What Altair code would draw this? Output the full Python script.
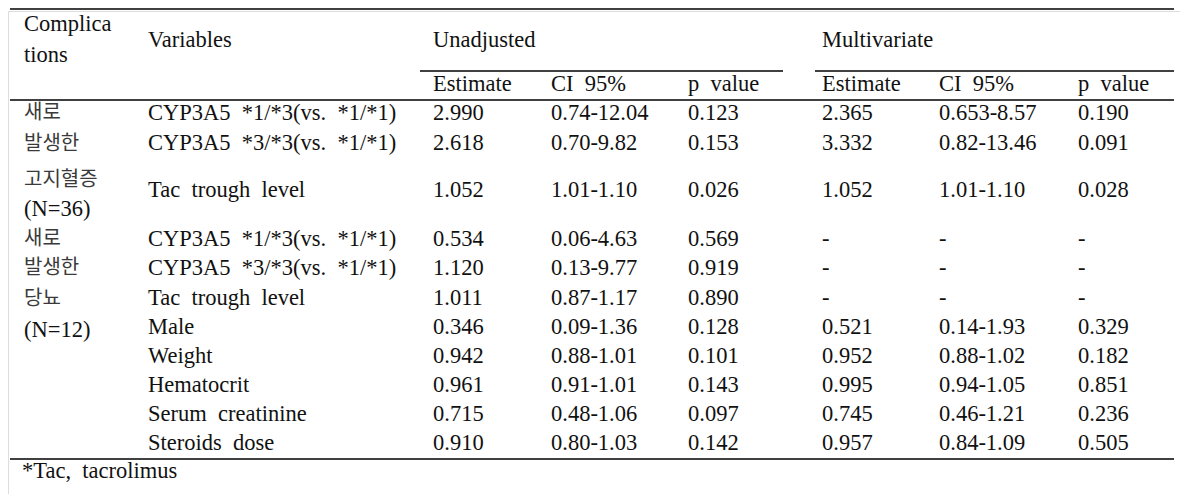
import altair as alt
import pandas as pd

# ---------------- data ----------------
group_labels = [["새로", "발생한", "고지혈증", "(N=36)"],
                ["새로", "발생한", "당뇨", "(N=12)"]]
variables = ["CYP3A5 *1/*3(vs. *1/*1)", "CYP3A5 *3/*3(vs. *1/*1)", "Tac trough level",
             "CYP3A5 *1/*3(vs. *1/*1)", "CYP3A5 *3/*3(vs. *1/*1)", "Tac trough level",
             "Male", "Weight", "Hematocrit", "Serum creatinine", "Steroids dose"]
unadj_est = ["2.990", "2.618", "1.052", "0.534", "1.120", "1.011", "0.346", "0.942", "0.961", "0.715", "0.910"]
unadj_ci = ["0.74-12.04", "0.70-9.82", "1.01-1.10", "0.06-4.63", "0.13-9.77", "0.87-1.17",
            "0.09-1.36", "0.88-1.01", "0.91-1.01", "0.48-1.06", "0.80-1.03"]
unadj_p = ["0.123", "0.153", "0.026", "0.569", "0.919", "0.890", "0.128", "0.101", "0.143", "0.097", "0.142"]
multi_est = ["2.365", "3.332", "1.052", "-", "-", "-", "0.521", "0.952", "0.995", "0.745", "0.957"]
multi_ci = ["0.653-8.57", "0.82-13.46", "1.01-1.10", "-", "-", "-",
            "0.14-1.93", "0.88-1.02", "0.94-1.05", "0.46-1.21", "0.84-1.09"]
multi_p = ["0.190", "0.091", "0.028", "-", "-", "-", "0.329", "0.182", "0.851", "0.236", "0.505"]
sub_headers = ["Estimate", "CI 95%", "p value"]
footnote = "*Tac, tacrolimus"

# ---------------- layout (page-pixel coordinates) ----------------
col_x = [433, 551, 688, 822, 939, 1078]
row_y = [110, 140, 187, 236, 265, 295, 324, 353, 382, 411, 440]
label_y = [[110, 141, 177, 206], [236, 265, 296, 327]]


def wide(s):
    return s.replace(" ", " \u00a0")


serif_rows = []
kr_rows = []

serif_rows += [
    {"t": "Complica", "x": 24, "y": 21},
    {"t": "tions", "x": 24, "y": 52},
    {"t": "Variables", "x": 148, "y": 37},
    {"t": "Unadjusted", "x": 433, "y": 37},
    {"t": "Multivariate", "x": 822, "y": 37},
    {"t": wide(footnote), "x": 22, "y": 468},
]
for i, h in enumerate(sub_headers * 2):
    serif_rows.append({"t": wide(h), "x": col_x[i], "y": 81})

cols = [unadj_est, unadj_ci, unadj_p, multi_est, multi_ci, multi_p]
for r, v in enumerate(variables):
    serif_rows.append({"t": wide(v), "x": 148, "y": row_y[r]})
    for c, col in enumerate(cols):
        serif_rows.append({"t": col[r], "x": col_x[c], "y": row_y[r]})

for g, labels in enumerate(group_labels):
    for k, lab in enumerate(labels):
        if lab.startswith("("):
            serif_rows.append({"t": lab, "x": 24, "y": label_y[g][k]})
        else:
            kr_rows.append({"t": lab, "x": 24, "y": label_y[g][k]})

rules = pd.DataFrame([
    {"x": 10, "x2": 1174, "y": 6},
    {"x": 420, "x2": 783, "y": 68},
    {"x": 815, "x2": 1174, "y": 68},
    {"x": 10, "x2": 1174, "y": 97},
    {"x": 10, "x2": 1174, "y": 456},
])

W, H = 1172, 486
Y0 = 8
xs = alt.Scale(domain=[8, 8 + W], range=[0, W], nice=False, zero=False)
ys = alt.Scale(domain=[Y0, Y0 + H], range=[0, H], nice=False, zero=False)

serif = alt.Chart(pd.DataFrame(serif_rows)).mark_text(
    align="left", baseline="middle", font="Liberation Serif", fontSize=22.5, color="#111111"
).encode(
    x=alt.X("x:Q", scale=xs, axis=None),
    y=alt.Y("y:Q", scale=ys, axis=None),
    text="t:N",
)

korean = alt.Chart(pd.DataFrame(kr_rows)).mark_text(
    align="left", baseline="middle", font="Noto Sans CJK KR", fontSize=20, color="#3a3a3a"
).encode(
    x=alt.X("x:Q", scale=xs, axis=None),
    y=alt.Y("y:Q", scale=ys, axis=None),
    text="t:N",
)

lines = alt.Chart(rules).mark_rule(color="#000000", strokeWidth=1.3).encode(
    x=alt.X("x:Q", scale=xs, axis=None),
    x2="x2:Q",
    y=alt.Y("y:Q", scale=ys, axis=None),
)

chart = alt.layer(lines, serif, korean).properties(
    width=W, height=H, padding=0,
    autosize=alt.AutoSizeParams(type="fit", contains="padding"),
).configure_view(stroke=None).configure(background="white")

chart.save("out.html", embed_options={"renderer": "svg", "actions": False})
